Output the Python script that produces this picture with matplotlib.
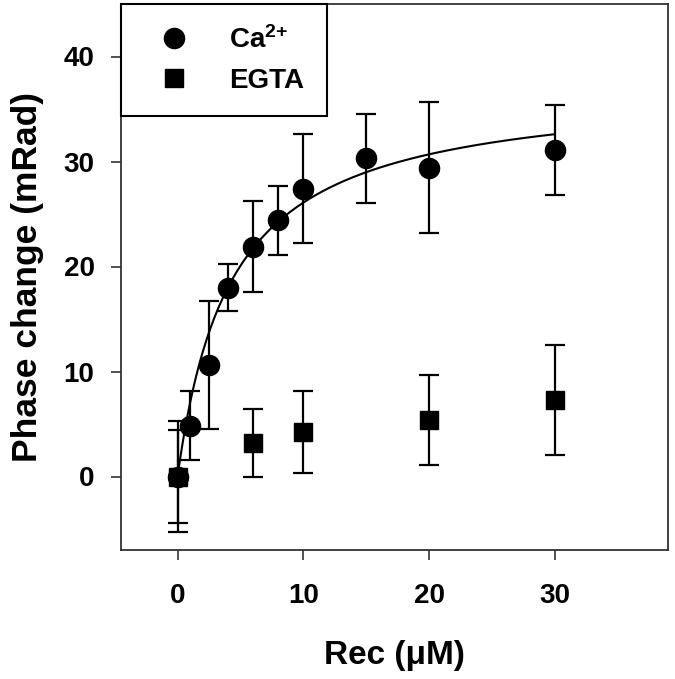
import numpy as np
import matplotlib
matplotlib.use("Agg")
import matplotlib.pyplot as plt
from matplotlib.lines import Line2D

# Ca2+ data (Rec concentration in uM, phase change in mRad, error)
ca_x = [0, 1, 2.5, 4, 6, 8, 10, 15, 20, 30]
ca_y = [0, 4.85, 10.6, 18.0, 21.9, 24.4, 27.4, 30.3, 29.4, 31.1]
ca_err = [5.3, 3.25, 6.1, 2.2, 4.35, 3.3, 5.2, 4.25, 6.25, 4.25]

# EGTA data
egta_x = [0, 6, 10, 20, 30]
egta_y = [0, 3.2, 4.2, 5.4, 7.3]
egta_err = [4.4, 3.25, 3.9, 4.3, 5.25]

# hyperbolic fit parameters for the Ca2+ curve
bmax = 37.25
kd = 4.28

plt.rcParams["font.family"] = ["Liberation Sans", "DejaVu Sans"]
plt.rcParams["font.weight"] = "bold"
plt.rcParams["mathtext.fontset"] = "custom"
plt.rcParams["mathtext.rm"] = "Liberation Sans:bold"
plt.rcParams["mathtext.it"] = "Liberation Sans:bold"
plt.rcParams["mathtext.bf"] = "Liberation Sans:bold"

fig = plt.figure(figsize=(6.75, 6.79), dpi=100)
ax = fig.add_axes([121 / 675, 1 - 550 / 679, 547 / 675, 546 / 679])

# fitted curve
fit_x = np.linspace(0, 30, 300)
fit_y = bmax * fit_x / (kd + fit_x)
ax.plot(fit_x, fit_y, color="black", lw=1.5, zorder=2)

ax.errorbar(ca_x, ca_y, yerr=ca_err, fmt="o", color="black", ms=14.5,
            capsize=7, elinewidth=1.6, capthick=1.6, zorder=3)
ax.errorbar(egta_x, egta_y, yerr=egta_err, fmt="s", color="black", ms=12.5,
            capsize=7, elinewidth=1.6, capthick=1.6, zorder=3)

ax.set_xlim(-4.5, 39)
ax.set_ylim(-7, 45)
ax.set_xticks([0, 10, 20, 30])
ax.set_yticks([0, 10, 20, 30, 40])

ax.tick_params(axis="both", direction="out", length=7, width=1.2, labelsize=20,
               top=False, right=False, colors="#333333", labelcolor="black")
ax.tick_params(axis="x", pad=17)
ax.tick_params(axis="y", pad=12)
for s in ax.spines.values():
    s.set_linewidth(1.3)
    s.set_color("#333333")

ax.set_xlabel("Rec (μM)", fontsize=24, fontweight="bold", labelpad=22)
ax.set_ylabel("Phase change (mRad)", fontsize=25.5, fontweight="bold", labelpad=14)

handles = [
    Line2D([], [], marker="o", ls="none", color="black", ms=14.5),
    Line2D([], [], marker="s", ls="none", color="black", ms=12.5),
]
leg = ax.legend(handles, [r"Ca$^{2{+}}$", "EGTA"], loc="upper left",
                borderaxespad=0, fancybox=False, fontsize=20,
                handlelength=2.2, handletextpad=0.9, borderpad=0.8,
                labelspacing=0.5)
leg.get_frame().set_edgecolor("black")
leg.get_frame().set_linewidth(1.5)
leg.get_frame().set_alpha(1)

fig.savefig("out.png", dpi=100)
